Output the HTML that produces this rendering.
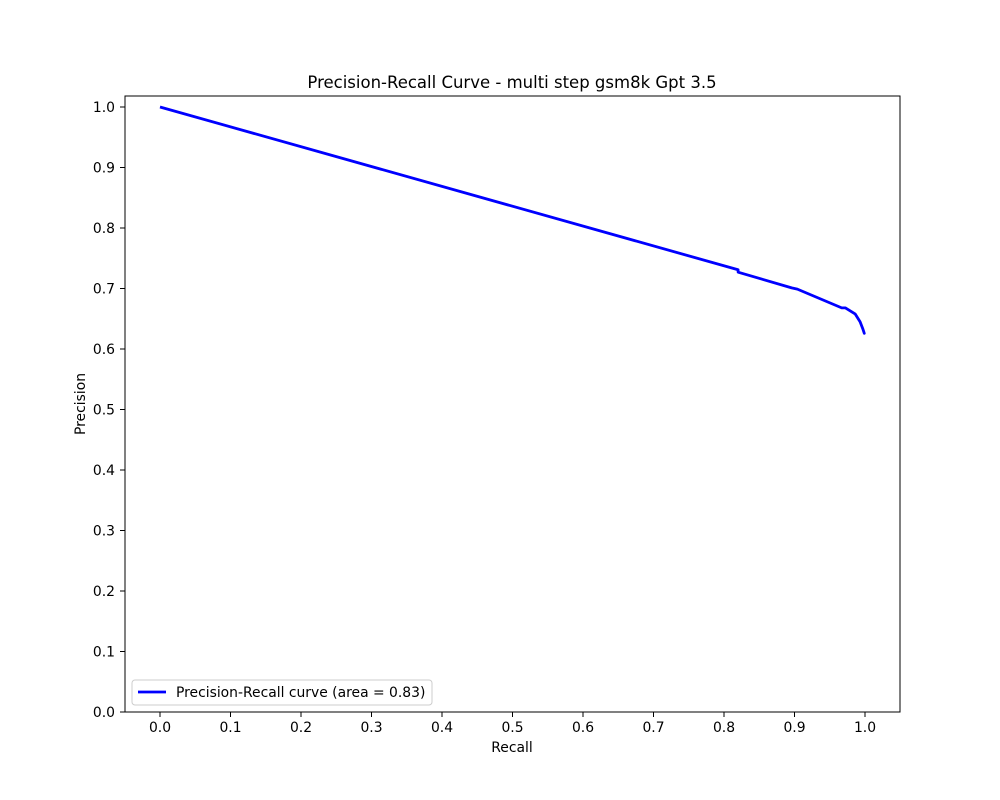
<!DOCTYPE html>
<html><head><meta charset="utf-8"><style>
body{margin:0;background:#fff}
svg{display:block;font-family:"DejaVu Sans","Liberation Sans",sans-serif}
</style></head><body>
<svg id="chart" width="1000" height="800" xmlns="http://www.w3.org/2000/svg">
<rect width="1000" height="800" fill="#fff"/>
<text x="512" y="88" text-anchor="middle" font-size="16.5">Precision-Recall Curve - multi step gsm8k Gpt 3.5</text>
<g id="xticks"></g><g id="yticks"></g>
<path id="curve" fill="none" stroke="#0000ff" stroke-width="2.8" stroke-linejoin="round"/>
<rect x="125" y="96" width="775" height="616" fill="none" stroke="#000" stroke-width="1"/>
<text x="512" y="752" text-anchor="middle" font-size="13.9">Recall</text>
<text transform="translate(85,404) rotate(-90)" text-anchor="middle" font-size="13.9">Precision</text>
<g>
<rect x="132" y="680" width="300" height="25" rx="3" fill="#fff" fill-opacity="0.8" stroke="#ccc"/>
<line x1="138" y1="692" x2="166" y2="692" stroke="#0000ff" stroke-width="2.8"/>
<text x="176" y="697" font-size="13.9">Precision-Recall curve (area = 0.83)</text>
</g>
</svg>
<script>
const recall=[0,0.82,0.82,0.896,0.904,0.967,0.972,0.986,0.993,0.997,0.999,1.0];
const precision=[1,0.731,0.727,0.701,0.699,0.668,0.668,0.658,0.645,0.633,0.626,0.627];
const xTicks=[0,0.1,0.2,0.3,0.4,0.5,0.6,0.7,0.8,0.9,1.0];
const yTicks=[0,0.1,0.2,0.3,0.4,0.5,0.6,0.7,0.8,0.9,1.0];
const X=v=>160+v*705, Y=v=>712-v*605;
const ns="http://www.w3.org/2000/svg";
document.getElementById('curve').setAttribute('d',recall.map((r,i)=>(i?'L':'M')+X(r)+','+Y(precision[i])).join(''));
const xg=document.getElementById('xticks'), yg=document.getElementById('yticks');
xTicks.forEach(t=>{
 const l=document.createElementNS(ns,'line');
 l.setAttribute('x1',X(t));l.setAttribute('x2',X(t));l.setAttribute('y1',712);l.setAttribute('y2',717);l.setAttribute('stroke','#000');
 
 
 xg.appendChild(l);
 const s=document.createElementNS(ns,'text');
 s.setAttribute('x',X(t));s.setAttribute('y',732);s.setAttribute('text-anchor','middle');s.setAttribute('font-size','13.9');
 s.textContent=t.toFixed(1);
 
 
 xg.appendChild(s);
});
yTicks.forEach(t=>{
 const l=document.createElementNS(ns,'line');
 l.setAttribute('x1',120);l.setAttribute('x2',125);l.setAttribute('y1',Y(t));l.setAttribute('y2',Y(t));l.setAttribute('stroke','#000');
 
 
 yg.appendChild(l);
 const s=document.createElementNS(ns,'text');
 s.setAttribute('x',115);s.setAttribute('y',Y(t)+5);s.setAttribute('text-anchor','end');s.setAttribute('font-size','13.9');
 s.textContent=t.toFixed(1);
 
 
 yg.appendChild(s);
});
</script>
</body></html>
